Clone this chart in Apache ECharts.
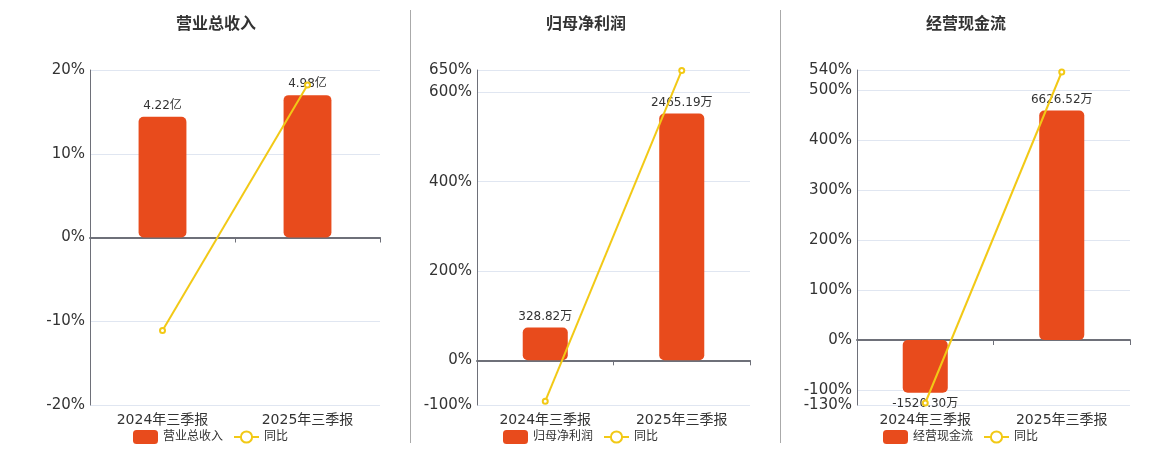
<!DOCTYPE html>
<html>
<head>
<meta charset="utf-8">
<script src="https://cdn.jsdelivr.net/npm/echarts@6/dist/echarts.min.js"></script>
<style>
  html, body { margin: 0; padding: 0; background: #fff; }
  #main { width: 1160px; height: 450px; }
</style>
</head>
<body>
<div id="main"></div>
<script>
// 报告期
var categories = ['2024年三季报', '2025年三季报'];
// 各面板标题
var titles = ['营业总收入', '归母净利润', '经营现金流'];
var units = ['亿', '万', '万'];
// 柱子数值
var revenueValues = [4.22, 4.98];
var profitValues = [328.82, 2465.19];
var cashValues = [-1520.30, 6626.52];
// 同比 (%)
var revenueYoy = [-11.1, 18.2];
var profitYoy = [-91.5, 649];
var cashYoy = [-126, 536];
// 百分比轴范围
var pctMin = [-20, -100, -130];
var pctMax = [20, 650, 540];

var barValues = [revenueValues, profitValues, cashValues];
var yoyValues = [revenueYoy, profitYoy, cashYoy];

var FONT = 'DejaVu Sans, Noto Sans CJK SC, sans-serif';
var BAR_COLOR = '#E84B1C';
var LINE_COLOR = '#F2C916';

var grids = [
  { left: 90, top: 70, width: 290, height: 335 },
  { left: 477, top: 70, width: 273, height: 335 },
  { left: 857, top: 70, width: 273, height: 335 }
];
// 标题和图例的横向中心
var panelCenters = [210, 580, 960];

var option = {
  animation: false,
  backgroundColor: '#fff',
  textStyle: { fontFamily: FONT },
  title: [], legend: [], grid: [], xAxis: [], yAxis: [], series: [],
  graphic: [
    { type: 'line', shape: { x1: 410.5, y1: 10, x2: 410.5, y2: 443 }, style: { stroke: '#aaa', lineWidth: 1 } },
    { type: 'line', shape: { x1: 780.5, y1: 10, x2: 780.5, y2: 443 }, style: { stroke: '#aaa', lineWidth: 1 } }
  ]
};

grids.forEach(function (g, i) {
  var c = panelCenters[i];
  option.grid.push(g);
  option.title.push({
    text: titles[i],
    left: c - 39, top: 12,
    textStyle: { fontSize: 16, fontWeight: 'bold', color: '#333', fontFamily: FONT }
  });
  option.legend.push({
    data: [titles[i], '同比'],
    left: c - 82, top: 425, orient: 'horizontal',
    itemWidth: 25, itemHeight: 14, itemGap: 10,
    textStyle: { fontSize: 12, color: '#333', fontFamily: FONT },
    selectedMode: false
  });
  // 0 轴上的线和刻度
  option.xAxis.push({
    type: 'category', gridIndex: i, data: categories,
    axisLine: { onZero: true, onZeroAxisIndex: i * 2, lineStyle: { color: '#6E7079', width: 2 } },
    axisTick: { show: true, lineStyle: { color: '#6E7079' } },
    axisLabel: { show: false }
  });
  // 底部类目文字
  option.xAxis.push({
    type: 'category', gridIndex: i, data: categories, position: 'bottom',
    axisLine: { show: false, onZero: false }, axisTick: { show: false },
    axisLabel: { fontSize: 14, color: '#333', margin: 8, fontFamily: FONT }
  });
  // 百分比轴
  option.yAxis.push({
    type: 'value', gridIndex: i, min: pctMin[i], max: pctMax[i],
    axisLine: { show: true, lineStyle: { color: '#6E7079' } },
    axisTick: { show: false },
    axisLabel: { fontSize: 15, color: '#333', margin: 5, formatter: '{value}%', fontFamily: FONT },
    splitLine: { lineStyle: { color: '#E0E6F1' } }
  });
  // 柱子的隐藏轴，零点与百分比轴对齐
  var bMax = Math.max.apply(null, barValues[i].map(Math.abs)) / 0.85;
  option.yAxis.push({
    type: 'value', gridIndex: i, show: false,
    min: bMax * pctMin[i] / pctMax[i], max: bMax,
    splitLine: { show: false }
  });
  option.series.push({
    name: titles[i], type: 'bar', xAxisIndex: i * 2, yAxisIndex: i * 2 + 1,
    barWidth: '33%',
    itemStyle: { color: BAR_COLOR, borderRadius: 5 },
    data: barValues[i].map(function (v) {
      return { value: v, label: { position: v < 0 ? 'bottom' : 'top' } };
    }),
    label: {
      show: true, fontSize: 12, color: '#333', fontFamily: FONT,
      formatter: function (p) { return p.value.toFixed(2) + units[i]; }
    },
    z: 2
  });
  option.series.push({
    name: '同比', type: 'line', xAxisIndex: i * 2, yAxisIndex: i * 2,
    data: yoyValues[i],
    symbol: 'emptyCircle', symbolSize: 5,
    lineStyle: { color: LINE_COLOR, width: 2 },
    itemStyle: { color: LINE_COLOR, borderWidth: 2 },
    z: 3
  });
});

var chart = echarts.init(document.getElementById('main'));
chart.setOption(option);
</script>
</body>
</html>
